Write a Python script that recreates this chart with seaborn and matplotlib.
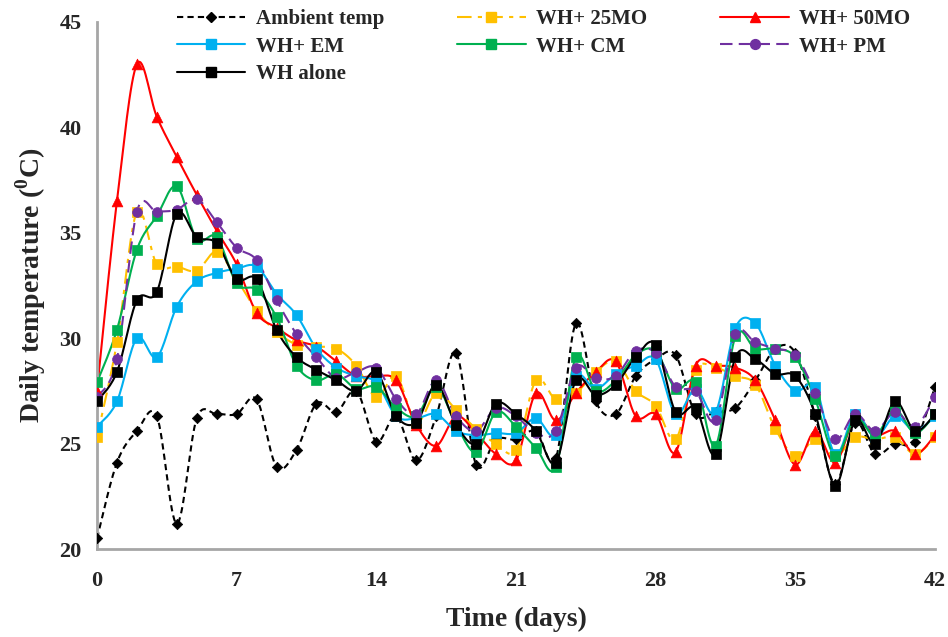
import numpy as np
import matplotlib
matplotlib.use("Agg")
import matplotlib.pyplot as plt
import seaborn as sns
from matplotlib.lines import Line2D

# Daily temperature readings, day 0..42
days = list(range(43))
ambient = [20.5, 24.1, 25.6, 26.3, 21.2, 26.2, 26.4, 26.4, 27.1, 23.9, 24.7, 26.9, 26.5, 27.5, 25.1,
           26.3, 24.2, 26.3, 29.3, 24.0, 25.2, 25.2, 25.6, 24.3, 30.7, 27.0, 26.4, 28.2, 29.0,
           29.2, 26.4, 26.5, 26.7, 28.0, 29.5, 29.3, 26.3, 23.1, 26.0, 24.5, 25.0, 25.1, 27.7]
wh_25mo = [25.3, 29.8, 36.0, 33.5, 33.4, 33.2, 34.1, 32.8, 31.3, 30.3, 29.7, 29.6, 29.5, 28.7, 27.2,
           28.2, 26.0, 27.4, 26.6, 25.7, 25.0, 24.7, 28.0, 27.1, 27.4, 28.4, 28.9, 27.5, 26.8,
           25.2, 28.5, 28.6, 28.2, 27.8, 25.7, 24.4, 25.2, 24.4, 25.3, 25.2, 25.3, 24.5, 25.3]
wh_50mo = [27.5, 36.5, 43.0, 40.5, 38.6, 36.8, 35.1, 33.5, 31.2, 30.5, 29.9, 29.6, 28.9, 28.2, 28.2,
           28.0, 25.9, 24.9, 26.3, 25.5, 24.5, 24.2, 27.4, 26.1, 27.4, 28.4, 28.9, 26.3, 26.4,
           24.6, 28.7, 28.7, 28.6, 28.0, 26.1, 24.0, 25.6, 24.1, 26.2, 25.4, 25.6, 24.5, 25.4]
wh_em = [25.8, 27.0, 30.0, 29.1, 31.5, 32.7, 33.1, 33.3, 33.4, 32.1, 31.1, 29.5, 28.6, 28.2, 27.9,
         26.3, 26.2, 26.4, 25.6, 25.4, 25.5, 25.5, 26.2, 25.4, 28.2, 27.6, 28.3, 28.7, 29.0,
         26.4, 27.6, 26.5, 30.5, 30.7, 28.7, 27.5, 27.7, 24.5, 26.4, 25.3, 26.3, 25.6, 26.3]
wh_cm = [27.9, 30.4, 34.2, 35.8, 37.2, 34.7, 34.8, 32.6, 32.3, 31.0, 28.7, 28.0, 28.3, 27.6, 27.7,
         26.7, 26.3, 27.7, 25.9, 24.6, 26.5, 25.8, 24.8, 23.9, 29.1, 27.5, 28.0, 29.2, 29.4,
         27.6, 27.9, 24.9, 30.1, 29.5, 29.5, 29.1, 27.1, 24.4, 26.2, 25.4, 26.6, 25.5, 26.4]
wh_pm = [27.2, 29.0, 36.0, 36.0, 36.1, 36.6, 35.5, 34.3, 33.7, 31.8, 30.2, 29.1, 28.1, 28.4, 28.6,
         27.1, 26.4, 28.0, 26.3, 25.6, 26.7, 26.3, 25.5, 25.6, 28.6, 28.1, 28.2, 29.4, 29.3,
         27.7, 27.5, 26.1, 30.2, 29.8, 29.5, 29.2, 27.4, 25.2, 26.4, 25.6, 26.5, 25.8, 27.2]
wh_alone = [27.0, 28.4, 31.8, 32.2, 35.9, 34.8, 34.5, 32.8, 32.8, 30.4, 29.1, 28.5, 28.0, 27.5, 28.4,
            26.3, 26.0, 27.8, 25.9, 25.0, 26.9, 26.4, 25.6, 24.1, 28.0, 27.3, 27.8, 29.1, 29.7,
            26.5, 26.7, 24.5, 29.1, 29.0, 28.3, 28.2, 26.4, 23.0, 26.1, 25.0, 27.0, 25.6, 26.4]

labels = ["Ambient temp", "WH+ 25MO", "WH+ 50MO", "WH+ EM", "WH+ CM", "WH+ PM", "WH alone"]
series = [ambient, wh_25mo, wh_50mo, wh_em, wh_cm, wh_pm, wh_alone]

# style per series: colour, linestyle, marker, marker area
styles = [
    ("black", (0, (3, 2)), "D", 28),
    ("#FFC000", (0, (7, 3, 2, 3)), "s", 44),
    ("#FF0000", "-", "^", 60),
    ("#00B0F0", "-", "s", 44),
    ("#00B050", "-", "s", 44),
    ("#7030A0", (0, (6, 3)), "o", 50),
    ("black", "-", "s", 44),
]


def smooth_curve(x, y, steps=16):
    # excel style smoothed line: bezier through the points
    pts = np.column_stack([x, y]).astype(float)
    n = len(pts)
    t = np.linspace(0, 1, steps, endpoint=False)[:, None]
    out = []
    for i in range(n - 1):
        prev = pts[i - 1] if i > 0 else pts[i]
        nxt = pts[i + 2] if i + 2 < n else pts[i + 1]
        c1 = pts[i] + (pts[i + 1] - prev) / 6
        c2 = pts[i + 1] - (nxt - pts[i]) / 6
        seg = ((1 - t) ** 3 * pts[i] + 3 * (1 - t) ** 2 * t * c1
               + 3 * (1 - t) * t ** 2 * c2 + t ** 3 * pts[i + 1])
        out.append(seg)
    out.append(pts[-1:])
    out = np.vstack(out)
    return out[:, 0], out[:, 1]


sns.set_style("white")
plt.rcParams["font.family"] = ["Liberation Serif", "DejaVu Serif"]
plt.rcParams["font.weight"] = "bold"
plt.rcParams["mathtext.fontset"] = "custom"
plt.rcParams["mathtext.rm"] = "Liberation Serif:bold"
plt.rcParams["mathtext.bf"] = "Liberation Serif:bold"

fig = plt.figure(figsize=(9.48, 6.37), dpi=100)
ax = fig.add_axes([0.1023, 0.1381, 0.8840, 0.8274])

handles = []
for vals, lab, (col, ls, mk, ms) in zip(series, labels, styles):
    xs, ys = smooth_curve(days, vals)
    sns.lineplot(x=xs, y=ys, ax=ax, color=col, linestyle=ls, linewidth=1.5,
                 sort=False, estimator=None, zorder=2)
    sns.scatterplot(x=days, y=vals, ax=ax, color=col, marker=mk, s=ms,
                    edgecolor=col, linewidth=0.5, zorder=3)
    handles.append(Line2D([], [], color=col, linestyle=ls, linewidth=1.5,
                          marker=mk, markersize=np.sqrt(ms)))

ax.set_xlim(0, 42)
ax.set_ylim(20, 45)
ax.set_xticks(range(0, 43, 7))
ax.set_yticks(range(20, 46, 5))
ax.tick_params(axis="both", labelsize=16, length=5, width=1.5, color="#a6a6a6", pad=6)
ax.tick_params(axis="x", pad=11)
for side in ["top", "right"]:
    ax.spines[side].set_visible(False)
for side in ["left", "bottom"]:
    ax.spines[side].set_color("#a6a6a6")
    ax.spines[side].set_linewidth(2)

ax.set_xlabel("Time (days)", fontsize=20, fontweight="bold", labelpad=11)
ax.set_ylabel(r"Daily temperature ($^{0}$C)", fontsize=20, fontweight="bold", labelpad=8)

# legend filled row by row, 3 columns
order = [0, 3, 6, 1, 4, 2, 5]
ax.legend([handles[i] for i in order], [labels[i] for i in order], ncol=3,
          loc="upper left", bbox_to_anchor=(0.085, 1.04), frameon=False,
          fontsize=15, handlelength=3.3, handletextpad=0.5, columnspacing=3.5,
          labelspacing=0.35, borderaxespad=0)

fig.savefig("out.png", dpi=100)
